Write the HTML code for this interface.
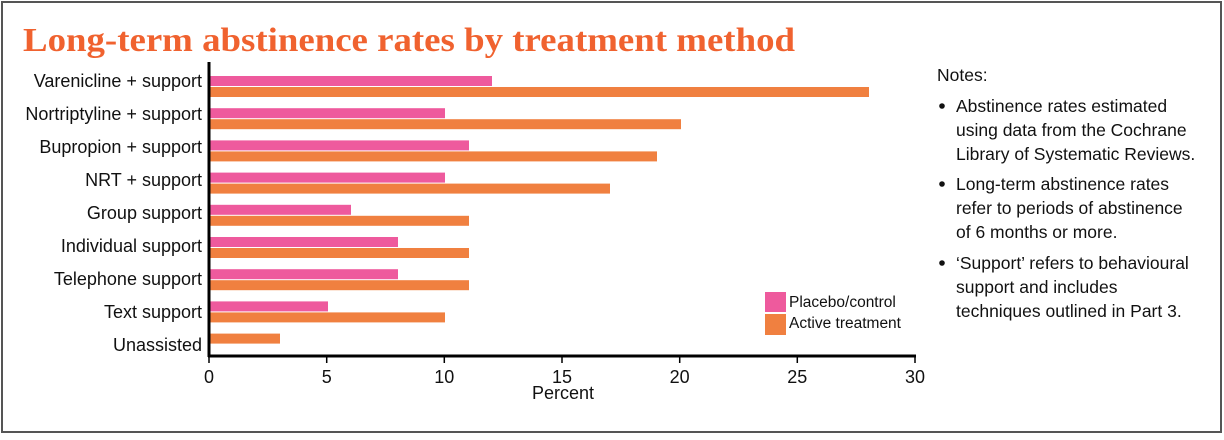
<!DOCTYPE html>
<html><head><style>body{margin:0;background:#fff}</style></head><body>
<svg width="1224" height="435" xmlns="http://www.w3.org/2000/svg" font-family="Liberation Sans, Arial, sans-serif">
<rect x="2" y="2" width="1219" height="430" fill="#fff" stroke="#555" stroke-width="2"/>
<text x="23" y="51" font-family="Liberation Serif, serif" font-weight="bold" font-size="34" fill="#f0622f" textLength="772" lengthAdjust="spacingAndGlyphs">Long-term abstinence rates by treatment method</text>
<g font-size="18" text-anchor="end" fill="#111">
<text x="202" y="87">Varenicline + support</text>
<text x="202" y="120">Nortriptyline + support</text>
<text x="202" y="153">Bupropion + support</text>
<text x="202" y="186">NRT + support</text>
<text x="202" y="219">Group support</text>
<text x="202" y="252">Individual support</text>
<text x="202" y="285">Telephone support</text>
<text x="202" y="318">Text support</text>
<text x="202" y="351">Unassisted</text>
</g>
<g fill="#ee5a9d">
<rect x="210" y="76" width="282" height="10"/>
<rect x="210" y="108.2" width="235" height="10"/>
<rect x="210" y="140.4" width="259" height="10"/>
<rect x="210" y="172.6" width="235" height="10"/>
<rect x="210" y="204.8" width="141" height="10"/>
<rect x="210" y="237" width="188" height="10"/>
<rect x="210" y="269.2" width="188" height="10"/>
<rect x="210" y="301.4" width="118" height="10"/>
</g>
<g fill="#f08040">
<rect x="210" y="87" width="659" height="10"/>
<rect x="210" y="119.2" width="471" height="10"/>
<rect x="210" y="151.4" width="447" height="10"/>
<rect x="210" y="183.6" width="400" height="10"/>
<rect x="210" y="215.8" width="259" height="10"/>
<rect x="210" y="248" width="259" height="10"/>
<rect x="210" y="280.2" width="259" height="10"/>
<rect x="210" y="312.4" width="235" height="10"/>
<rect x="210" y="333.6" width="70" height="10"/>
</g>
<line x1="209" y1="62" x2="209" y2="357" stroke="#000" stroke-width="3"/>
<line x1="208" y1="356" x2="916" y2="356" stroke="#000" stroke-width="3"/>
<g stroke="#000" stroke-width="1.5">
<line x1="209" y1="356" x2="209" y2="363"/><line x1="326.7" y1="356" x2="326.7" y2="363"/>
<line x1="444.3" y1="356" x2="444.3" y2="363"/><line x1="562" y1="356" x2="562" y2="363"/>
<line x1="679.7" y1="356" x2="679.7" y2="363"/><line x1="797.3" y1="356" x2="797.3" y2="363"/>
<line x1="915" y1="356" x2="915" y2="363"/>
</g>
<g font-size="18" text-anchor="middle" fill="#111">
<text x="209" y="383">0</text><text x="326.7" y="383">5</text><text x="444.3" y="383">10</text>
<text x="562" y="383">15</text><text x="679.7" y="383">20</text><text x="797.3" y="383">25</text><text x="915" y="383">30</text>
<text x="563" y="399">Percent</text>
</g>
<rect x="765" y="292" width="21" height="20" fill="#ee5a9d"/>
<rect x="765" y="314" width="21" height="21" fill="#f08040"/>
<g font-size="15.5" fill="#111">
<text x="789" y="307">Placebo/control</text>
<text x="789" y="328">Active treatment</text>
</g>
<g font-size="17.5" fill="#111">
<text x="937" y="81">Notes:</text>
<circle cx="942" cy="106" r="2.8"/><circle cx="942" cy="184" r="2.8"/><circle cx="942" cy="263" r="2.8"/>
<text x="956" y="112">Abstinence rates estimated</text>
<text x="956" y="136">using data from the Cochrane</text>
<text x="956" y="160">Library of Systematic Reviews.</text>
<text x="956" y="190">Long-term abstinence rates</text>
<text x="956" y="214">refer to periods of abstinence</text>
<text x="956" y="238">of 6 months or more.</text>
<text x="956" y="269">‘Support’ refers to behavioural</text>
<text x="956" y="293">support and includes</text>
<text x="956" y="317">techniques outlined in Part 3.</text>
</g>
</svg>
</body></html>
